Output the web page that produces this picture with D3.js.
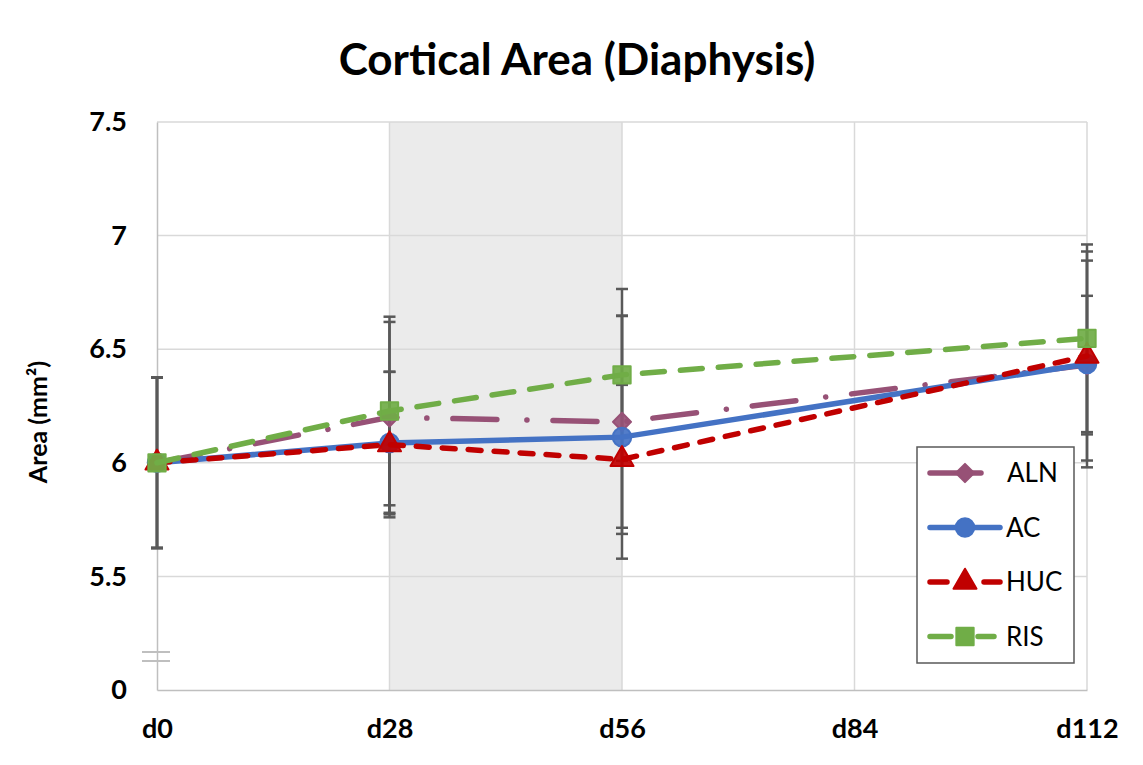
<!DOCTYPE html>
<html>
<head>
<meta charset="utf-8">
<script src="https://cdn.jsdelivr.net/npm/d3@7"></script>
<style>
    body { margin: 0; background: #fff; }
    text { font-family: Lato, "Open Sans", "Liberation Sans", sans-serif; }
</style>
</head>
<body>
<svg id="chart"></svg>
<script>
// Data ---->
var days = ["d0", "d28", "d56", "d84", "d112"];
var yTicks = [5, 5.5, 6, 6.5, 7, 7.5];
var yTickLabels = ["0", "5.5", "6", "6.5", "7", "7.5"];
var shadedDays = ["d28", "d56"];

var alnValues = [6.0, 6.20, 6.18, null, 6.43];
var alnErrors = [0.375, 0.42, 0.466, null, 0.305];
var acValues = [6.0, 6.087, 6.113, null, 6.435];
var acErrors = [0.375, 0.314, 0.535, null, 0.455];
var hucValues = [6.0, 6.08, 6.015, null, 6.47];
var hucErrors = [0.375, 0.32, 0.328, null, 0.46];
var risValues = [6.0, 6.228, 6.387, null, 6.548];
var risErrors = [0.375, 0.415, 0.378, null, 0.413];
// <---- Data

var WIDTH = 1143, HEIGHT = 765;
var LEFT = 157, RIGHT = 1087, TOP = 122, BOTTOM = 690;

var series = [
    {name: "ALN", values: alnValues, errors: alnErrors, color: "#975176", dash: "44,30,0.1,26", legendDash: null, legendEnd: 64, marker: d3.symbolDiamond2, size: 210},
    {name: "AC", values: acValues, errors: acErrors, color: "#4472C4", dash: null, legendDash: null, legendEnd: 83, marker: d3.symbolCircle, size: 270},
    {name: "HUC", values: hucValues, errors: hucErrors, color: "#C00000", dash: "13,13", legendDash: "17,37,17", legendEnd: 83, marker: d3.symbolTriangle, size: 230},
    {name: "RIS", values: risValues, errors: risErrors, color: "#70AD47", dash: "22,16", legendDash: "21,27,16", legendEnd: 77, marker: d3.symbolSquare, size: 300}
];

var svg = d3.select("#chart")
    .attr("width", WIDTH)
    .attr("height", HEIGHT);

var x = d3.scalePoint().domain(days).range([LEFT, RIGHT]);
var y = d3.scaleLinear().domain([5, 7.5]).range([BOTTOM, TOP]);

// shaded interval
svg.append("rect")
    .attr("x", x(shadedDays[0]))
    .attr("y", TOP)
    .attr("width", x(shadedDays[1]) - x(shadedDays[0]))
    .attr("height", BOTTOM - TOP)
    .attr("fill", "#ebebeb");

// grid
svg.append("g")
    .selectAll("line.h")
    .data(yTicks.slice(1))
    .join("line")
    .attr("x1", LEFT).attr("x2", RIGHT)
    .attr("y1", function(d) { return y(d); })
    .attr("y2", function(d) { return y(d); })
    .attr("stroke", "#d9d9d9").attr("stroke-width", 1.5);

svg.append("g")
    .selectAll("line.v")
    .data(days.slice(1))
    .join("line")
    .attr("x1", function(d) { return x(d); })
    .attr("x2", function(d) { return x(d); })
    .attr("y1", TOP).attr("y2", BOTTOM)
    .attr("stroke", "#d9d9d9").attr("stroke-width", 1.5);

// axes
var yAxis = d3.axisLeft(y)
    .tickValues(yTicks)
    .tickSize(0)
    .tickPadding(30)
    .tickFormat(function(d, i) { return yTickLabels[i]; });
var gy = svg.append("g").attr("transform", "translate(" + LEFT + ",0)").call(yAxis);
gy.select(".domain").attr("stroke", "#bfbfbf").attr("stroke-width", 1.5);
gy.selectAll("text").attr("font-size", 27).attr("font-weight", "bold").attr("fill", "#000");

var xAxis = d3.axisBottom(x).tickSize(0).tickPadding(29);
var gx = svg.append("g").attr("transform", "translate(0," + BOTTOM + ")").call(xAxis);
gx.select(".domain").attr("stroke", "#bfbfbf").attr("stroke-width", 1.5);
gx.selectAll("text").attr("font-size", 27).attr("font-weight", "bold").attr("fill", "#000");

// axis break marks
[652, 661].forEach(function(yy) {
    svg.append("line")
        .attr("x1", LEFT - 15).attr("x2", LEFT + 13)
        .attr("y1", yy).attr("y2", yy)
        .attr("stroke", "#bfbfbf").attr("stroke-width", 2);
});

// error bars
series.forEach(function(s) {
    var pts = days.map(function(d, i) {
        return {day: d, v: s.values[i], e: s.errors[i]};
    }).filter(function(p) { return p.v !== null; });
    var g = svg.append("g").attr("stroke", "#595959").attr("stroke-width", 2.5);
    pts.forEach(function(p) {
        var cx = x(p.day);
        g.append("line").attr("x1", cx).attr("x2", cx)
            .attr("y1", y(p.v - p.e)).attr("y2", y(p.v + p.e));
        [p.v - p.e, p.v + p.e].forEach(function(v) {
            g.append("line").attr("x1", cx - 6).attr("x2", cx + 6)
                .attr("y1", y(v)).attr("y2", y(v));
        });
    });
});

// lines and markers
var line = d3.line()
    .x(function(p) { return x(p.day); })
    .y(function(p) { return y(p.v); });

series.forEach(function(s) {
    var pts = days.map(function(d, i) {
        return {day: d, v: s.values[i]};
    }).filter(function(p) { return p.v !== null; });
    svg.append("path")
        .datum(pts)
        .attr("d", line)
        .attr("fill", "none")
        .attr("stroke", s.color)
        .attr("stroke-width", 5.5)
        .attr("stroke-linecap", "round")
        .attr("stroke-dasharray", s.dash);
    svg.append("g")
        .selectAll("path")
        .data(pts)
        .join("path")
        .attr("transform", function(p) { return "translate(" + x(p.day) + "," + y(p.v) + ")"; })
        .attr("d", d3.symbol().type(s.marker).size(s.size))
        .attr("fill", s.color)
        .attr("fill-opacity", 0.92)
        .attr("stroke", s.color)
        .attr("stroke-width", 2)
        .attr("stroke-linejoin", "round");
});

// legend
var legend = svg.append("g").attr("transform", "translate(917,447)");
legend.append("rect")
    .attr("width", 157).attr("height", 216)
    .attr("fill", "#fff")
    .attr("stroke", "#595959").attr("stroke-width", 1.5);
series.forEach(function(s, i) {
    var ly = 26 + i * 54.5;
    legend.append("line")
        .attr("x1", 13).attr("x2", s.legendEnd)
        .attr("y1", ly).attr("y2", ly)
        .attr("stroke", s.color)
        .attr("stroke-width", 5.5)
        .attr("stroke-linecap", "round")
        .attr("stroke-dasharray", s.legendDash);
    legend.append("path")
        .attr("transform", "translate(" + 48 + "," + ly + ")")
        .attr("d", d3.symbol().type(s.marker).size(s.size))
        .attr("fill", s.color)
        .attr("stroke", s.color)
        .attr("stroke-width", 2)
        .attr("stroke-linejoin", "round");
    legend.append("text")
        .attr("x", s.name == "ALN" ? 90 : 89)
        .attr("y", ly)
        .attr("dy", "0.36em")
        .attr("font-size", 26)
        .text(s.name);
});

// titles
svg.append("text")
    .attr("x", 577).attr("y", 75)
    .attr("text-anchor", "middle")
    .attr("font-size", 44)
    .attr("font-weight", "bold")
    .text("Cortical Area (Diaphysis)");

svg.append("text")
    .attr("transform", "translate(47,422) rotate(-90)")
    .attr("text-anchor", "middle")
    .attr("font-size", 25)
    .attr("font-weight", "bold")
    .text("Area (mm²)");
</script>
</body>
</html>
